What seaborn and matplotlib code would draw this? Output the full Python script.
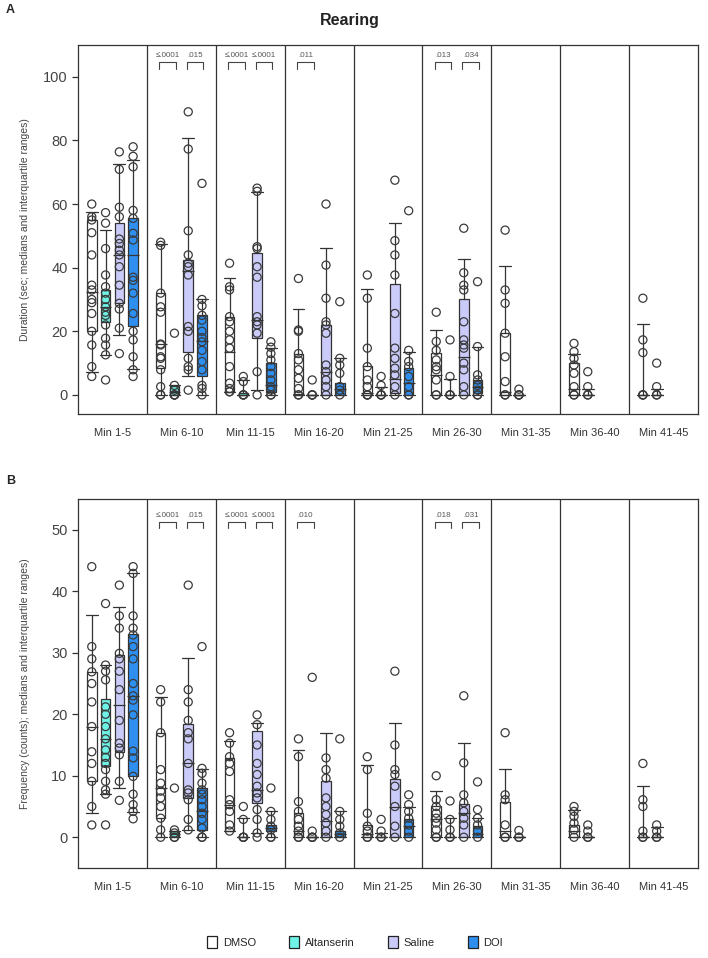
import numpy as np
import pandas as pd
import matplotlib.pyplot as plt
from matplotlib.patches import Patch
import seaborn as sns

bins = ['Min 1-5', 'Min 6-10', 'Min 11-15', 'Min 16-20', 'Min 21-25',
        'Min 26-30', 'Min 31-35', 'Min 36-40', 'Min 41-45']
groups = ['DMSO', 'Altanserin', 'Saline', 'DOI']
colors = ['#ffffff', '#6ff2e6', '#cbcbfa', '#2f8ff0']

# ---- Panel A: duration (sec), individual animals per bin ----
dur_dmso = [[60, 56, 55, 51, 44, 34.5, 33, 30, 29, 25.6, 20, 15.7, 8.9, 5.8],
            [48, 47, 32, 27.7, 26, 16, 15.7, 12, 11.5, 7.9, 2.6, 0, 0],
            [41.4, 34, 33, 24.6, 23, 20, 17.3, 14.7, 8.9, 3.7, 2, 1, 1],
            [36.6, 20.4, 20, 13, 11, 7.9, 5.2, 2, 0, 0],
            [37.7, 30.4, 14.7, 8.9, 4.7, 2.6, 0, 0, 0],
            [26, 16.8, 14, 11, 8.9, 7.9, 4.7, 0, 0],
            [51.8, 33, 28.8, 19.4, 12, 4.2, 0, 0],
            [16.2, 13.6, 11.5, 9.4, 6.8, 2.6, 0, 0],
            [30.4, 17.3, 13.3, 0, 0, 0]]
dur_alt = [[57.3, 54, 46, 37.7, 34, 32, 30, 27.7, 26, 25, 22, 17.8, 15.7, 12.6, 4.7],
           [19.4, 3, 1.5, 0, 0, 0],
           [5.8, 4.2, 0, 0, 0],
           [4.7, 0, 0, 0],
           [5.8, 3, 0, 0, 0],
           [17.3, 5.8, 0, 0, 0],
           [1.8, 0, 0, 0],
           [7.3, 2.6, 0, 0],
           [10, 2.6, 0, 0]]
dur_sal = [[76.4, 70.9, 59, 56, 49, 47.6, 45.5, 44, 40.3, 34.5, 28.8, 27, 21, 13],
           [89, 77.3, 51.6, 44, 41.4, 40.3, 37.7, 21.5, 20, 11.5, 8.9, 7.9, 1.5],
           [65, 64, 46.6, 46, 40.3, 37, 24.6, 23, 22, 19.4, 7.3, 0],
           [60, 40.8, 30.4, 23, 22, 19.4, 9.4, 7.3, 4.7, 2.6, 0],
           [67.5, 48.5, 44, 37.7, 25.6, 14.7, 11.5, 8.4, 6.3, 2.6, 0],
           [52.4, 38.4, 34.5, 33, 23, 17.3, 15.7, 14.7, 10, 7.9, 2.6, 0]]
dur_doi = [[78, 75, 71.7, 58, 55.5, 50.8, 48.7, 37, 36, 32, 25.6, 20, 17.3, 12, 7.9, 5.8],
           [66.5, 30, 28, 25, 23.5, 20, 18, 16.7, 14, 10.5, 7.9, 3, 2, 0],
           [16.7, 15, 13, 11, 8.9, 6.8, 4.7, 2.6, 1.5, 0, 0],
           [29.3, 11.5, 9.4, 6.8, 2.6, 1.5, 0],
           [57.9, 14, 10.5, 8.9, 5.8, 2.6, 0, 0],
           [35.6, 15.2, 6.3, 4.7, 3, 1.5, 0, 0]]

# (lower whisker, q1, median, q3, upper whisker) as drawn
dur_dmso_box = [(7.3, 20, 32.5, 55, 57.4), (0, 8.4, 16, 32, 47.3), (1, 1, 13.6, 24.6, 36.6),
                (0, 0, 0.3, 13, 27), (0, 0, 0.5, 9, 33.2), (0, 0, 6.3, 13.3, 20.4),
                (0, 0, 1, 19.4, 40.6), (0, 0, 2, 10, 13), (0, 0, 0, 0, 22.3)]
dur_alt_box = [(12.6, 23, 27.7, 33, 52), (0, 0, 0.8, 2.8, 3.2), (0, 0, 0, 0.5, 4.7),
               (0, 0, 0, 0, 0), (0, 0, 0, 0, 2.6), (0, 0, 0, 0, 4.9),
               (0, 0, 0, 0, 0), (0, 0, 0, 0, 2), (0, 0, 0, 0, 2)]
dur_sal_box = [(18.8, 28.8, 44, 54, 72.5), (5.8, 13.4, 39, 42.4, 80.8), (1.5, 17.8, 23.6, 44.5, 63.7),
               (0, 0, 7.3, 22, 46.3), (0, 0.5, 5, 34.8, 54), (0, 0, 12, 30, 42.6)]
dur_doi_box = [(8.2, 21.7, 44, 55.5, 74), (0, 5.8, 17, 25, 30), (0, 1, 3, 10, 14.7),
               (0, 0, 2, 3.7, 11.5), (0, 0, 3.7, 8.4, 13.6), (0, 0.5, 2.6, 4.7, 15)]

# ---- Panel B: frequency (counts) ----
freq_dmso = [[44, 31, 29, 26.9, 25, 22, 18, 13.9, 12, 9.1, 5, 2],
             [24, 22, 17, 11, 8.8, 7.5, 6.4, 5, 3.1, 1.2, 0],
             [17, 15.3, 13.1, 12, 10.7, 6.1, 5.3, 4.2, 2, 1],
             [16, 13.1, 5.8, 4.2, 2.9, 1.8, 1, 0, 0],
             [13.1, 11, 3.9, 1.8, 1, 0, 0],
             [10, 6.1, 5, 3.9, 3.1, 2.3, 1.2, 0, 0],
             [17, 6.9, 6.1, 2, 0, 0],
             [5, 4.2, 3.4, 2.3, 1.2, 0],
             [12, 6.1, 5, 1, 0, 0]]
freq_alt = [[38, 28, 27, 25.6, 21.2, 20, 18, 16, 14.2, 13, 12, 11, 9.1, 7.7, 7, 2],
            [8, 1.2, 0.7, 0, 0],
            [5, 2.9, 0, 0, 0],
            [26, 1, 0, 0, 0],
            [2.9, 1, 0, 0],
            [5.9, 2.9, 1.2, 0, 0],
            [1.1, 0, 0],
            [2, 1, 0, 0],
            [2, 1, 0, 0]]
freq_sal = [[41, 36, 34, 29.9, 29, 27, 24, 19, 15.3, 14.5, 13.4, 9.1, 6],
            [41, 24, 22, 19, 17, 16, 12, 7.7, 7.2, 6.1, 2.9, 1.2],
            [19.9, 18.3, 15, 12, 10.2, 8.3, 7.2, 6.4, 4.5, 2.9, 0.7, 0],
            [12.9, 11, 9.6, 6.4, 5, 3.7, 2.3, 1, 0],
            [27, 15, 11, 10.2, 8.3, 5, 1.8, 0],
            [23, 12.1, 6.9, 5.6, 4.2, 3.1, 2, 0]]
freq_doi = [[44, 42.9, 36, 34, 32.9, 31, 29, 25, 23, 22.3, 19.9, 14, 12.9, 9.9, 7, 5.3, 4.2, 3],
            [31, 11.2, 10.4, 8.8, 7.7, 7, 6.1, 5, 3.9, 2.9, 1.5, 0, 0],
            [8, 4.2, 2.9, 1.8, 1.2, 0, 0],
            [16, 4.2, 2.9, 1.8, 0.7, 0],
            [6.9, 5.3, 4.2, 3.1, 2, 1, 0],
            [9, 4.5, 3.1, 2, 1, 0]]

freq_dmso_box = [(3.9, 9.2, 18, 26.9, 36.2), (0, 3.1, 8, 17, 22.8), (1, 1, 5.3, 12.9, 15.7),
                 (0, 0, 1, 4, 14.2), (0, 0, 0.5, 2, 11.8), (0, 0, 2.9, 5.1, 7.6),
                 (0, 0, 1, 5.8, 11.1), (0, 0, 1, 2, 4.5), (0, 0, 0, 0, 8.4)]
freq_alt_box = [(7, 11.6, 16, 22.4, 28), (0, 0, 0.5, 1, 1), (0, 0, 0, 0, 3.1),
                (0, 0, 0, 0, 0), (0, 0, 0, 0, 0.7), (0, 0, 0, 0, 3.2),
                (0, 0, 0, 0, 0), (0, 0, 0, 0, 0), (0, 0, 0, 0, 1.6)]
freq_sal_box = [(8, 13.9, 21.5, 29.6, 37.5), (1.2, 6.4, 12, 18.4, 29.1), (0.7, 5.6, 7.7, 17.2, 18.5),
                (0, 0, 2.6, 9.2, 17), (0, 0, 5, 9.4, 18.5), (0, 0, 3.9, 5.4, 15.3)]
freq_doi_box = [(4.1, 10, 23, 33, 43), (0, 1.2, 4.2, 8, 11.1), (0, 1, 1.5, 2, 4.3),
                (0, 0, 0.5, 1, 4.2), (0, 0, 1.8, 2.9, 5), (0, 0, 0.5, 1.8, 3.1)]

# significance brackets (bin index, pair, p label)
sig_bins = [1, 1, 2, 2, 3, 5, 5]
sig_pairs = ['left', 'right', 'left', 'right', 'left', 'left', 'right']
sig_labels_A = ['≤.0001', '.015', '≤.0001', '≤.0001', '.011', '.013', '.034']
sig_labels_B = ['≤.0001', '.015', '≤.0001', '≤.0001', '.010', '.018', '.031']

sns.set_theme(style='ticks')
plt.rcParams['font.family'] = ['Liberation Sans', 'DejaVu Sans']

fig = plt.figure(figsize=(7.08, 9.58), dpi=100)
axA = fig.add_axes([78 / 708, 1 - 414 / 958, 620 / 708, 369 / 958])
axB = fig.add_axes([78 / 708, 1 - 868 / 958, 620 / 708, 369 / 958])

offsets = np.array([-0.3, -0.1, 0.1, 0.3])
dark = '#333333'


def draw_panel(ax, pts, boxes, ylim, yticks, ylabel, sig_labels, sig_y):
    rows = []
    for g, name in enumerate(groups):
        for b, vals in enumerate(pts[g]):
            for v in vals:
                rows.append({'x': b + offsets[g], 'value': v, 'group': name})
    df = pd.DataFrame(rows)

    # medians / IQR boxes / whiskers
    for g in range(len(groups)):
        stats, pos = [], []
        for b, (lo, q1, med, q3, hi) in enumerate(boxes[g]):
            stats.append(dict(whislo=lo, q1=q1, med=med, q3=q3, whishi=hi, fliers=[]))
            pos.append(b + offsets[g])
        art = ax.bxp(stats, positions=pos, widths=0.14, capwidths=0.17,
                     patch_artist=True, showfliers=False, manage_ticks=False,
                     boxprops=dict(facecolor=colors[g], edgecolor=dark, linewidth=0.9),
                     whiskerprops=dict(color=dark, linewidth=0.9),
                     capprops=dict(color=dark, linewidth=0.9),
                     medianprops=dict(color=dark, linewidth=0.9))
        for line in art['medians']:
            c = np.mean(line.get_xdata())
            line.set_xdata([c - 0.085, c + 0.085])

    # individual animals
    sns.scatterplot(data=df, x='x', y='value', ax=ax, s=34, legend=False, zorder=3)
    coll = ax.collections[-1]
    coll.set_facecolor('none')
    coll.set_edgecolor('#3a3a3a')
    coll.set_linewidth(0.9)

    for b in range(1, len(bins)):
        ax.axvline(b - 0.5, color=dark, lw=0.9)

    top, leg, ty = sig_y
    for b, pair, lab in zip(sig_bins, sig_pairs, sig_labels):
        g1, g2 = (0, 1) if pair == 'left' else (2, 3)
        x1, x2 = b + offsets[g1] - 0.02, b + offsets[g2] + 0.02
        ax.plot([x1, x1, x2, x2], [leg, top, top, leg], color='#444444', lw=0.8)
        ax.text((x1 + x2) / 2, ty, lab, ha='center', va='bottom', fontsize=5.8, color='#555555')

    ax.set_xlim(-0.5, len(bins) - 0.5)
    ax.set_ylim(*ylim)
    ax.set_yticks(yticks)
    ax.set_xticks(range(len(bins)))
    ax.set_xticklabels(bins, fontsize=8, color='#333333')
    ax.tick_params(axis='x', length=0, pad=10)
    ax.tick_params(axis='y', length=4, width=0.9, color=dark, labelsize=10.5,
                   labelcolor='#444444', direction='out')
    ax.set_xlabel('')
    ax.set_ylabel(ylabel, fontsize=7.5, color='#444444')
    ax.yaxis.set_label_coords(-0.078, 0.5)
    for sp in ax.spines.values():
        sp.set_color(dark)
        sp.set_linewidth(0.9)


draw_panel(axA, [dur_dmso, dur_alt, dur_sal, dur_doi],
           [dur_dmso_box, dur_alt_box, dur_sal_box, dur_doi_box],
           (-6, 110), [0, 20, 40, 60, 80, 100],
           'Duration (sec; medians and interquartile ranges)', sig_labels_A, (104.6, 102.6, 105.6))
draw_panel(axB, [freq_dmso, freq_alt, freq_sal, freq_doi],
           [freq_dmso_box, freq_alt_box, freq_sal_box, freq_doi_box],
           (-5, 55), [0, 10, 20, 30, 40, 50],
           'Frequency (counts); medians and interquartile ranges)', sig_labels_B, (51.3, 50.3, 51.8))

fig.text(350 / 708, 1 - 21 / 958, 'Rearing', ha='center', va='center',
         fontsize=11.5, fontweight='bold', color='#222222')
fig.text(6 / 708, 1 - 10 / 958, 'A', ha='left', va='center', fontsize=9, fontweight='bold')
fig.text(6 / 708, 1 - 481 / 958, 'B', ha='left', va='center', fontsize=9, fontweight='bold')

handles = [Patch(facecolor=c, edgecolor='#222222', linewidth=0.9, label=g)
           for g, c in zip(groups, colors)]
fig.legend(handles=handles, loc='center', bbox_to_anchor=(355 / 708, 1 - 942 / 958),
           ncol=4, frameon=False, fontsize=8, handlelength=0.9, handleheight=1.2,
           handletextpad=0.5, columnspacing=3.0)

fig.savefig('out.png', dpi=100)
